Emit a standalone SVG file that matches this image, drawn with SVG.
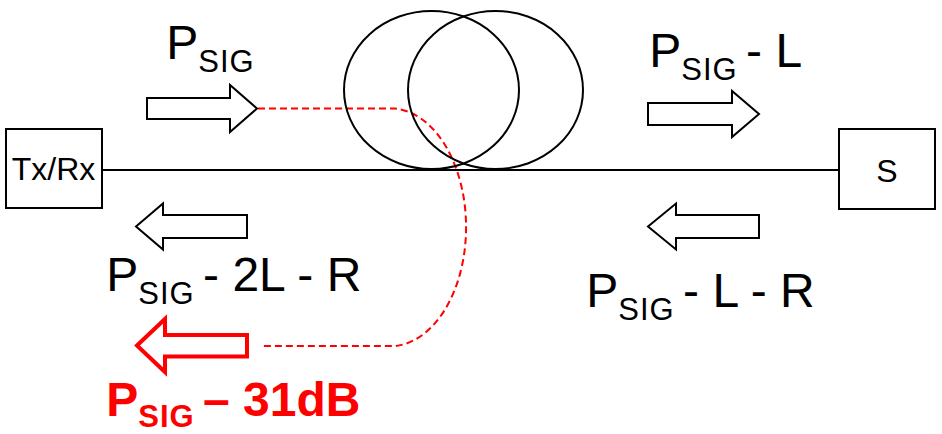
<svg xmlns="http://www.w3.org/2000/svg" width="942" height="434" viewBox="0 0 942 434">
  <style>
    .box { fill: #fff; stroke: #000; stroke-width: 2; }
    .loop { fill: none; stroke: #000; stroke-width: 2; }
    .fiber { stroke: #000; stroke-width: 2; }
    .arrow { fill: #fff; stroke: #000; stroke-width: 2; stroke-linejoin: miter; }
    .arrow-red { fill: #fff; stroke: #ff0000; stroke-width: 4; stroke-linejoin: miter; }
    .leak { fill: none; stroke: #ff0000; stroke-width: 2; stroke-dasharray: 7 4; }
    .lbl { font-family: "Liberation Sans", Arial, sans-serif; font-size: 48px; fill: #000; }
    .lbl-red { font-family: "Liberation Sans", Arial, sans-serif; font-size: 48px; font-weight: bold; fill: #ff0000; }
    .sub { font-size: 31px; letter-spacing: 1px; }
    .node-txt { font-family: "Liberation Sans", Arial, sans-serif; font-size: 32px; fill: #000; text-anchor: middle; }
  </style>

  <!-- fiber connections -->
  <g id="connectors">
    <line class="fiber" x1="102" y1="170" x2="839" y2="170"/>
    <path class="leak" d="M 258,108.5 H 395 A 76 119 0 0 1 395 346 H 262"/>
  </g>

  <!-- transceiver -->
  <g id="txrx">
    <rect class="box" x="6" y="129" width="96" height="79"/>
    <text class="node-txt" x="53.5" y="180">Tx/Rx</text>
  </g>

  <!-- sensor end -->
  <g id="sensor">
    <rect class="box" x="839" y="129" width="96" height="80"/>
    <text class="node-txt" x="887" y="182">S</text>
  </g>

  <!-- fiber coil -->
  <g id="coil">
    <ellipse class="loop" cx="431.5" cy="90" rx="87.5" ry="79"/>
    <ellipse class="loop" cx="495.5" cy="90" rx="87.5" ry="79"/>
  </g>

  <!-- forward signal at transmitter -->
  <g id="fwd-in">
    <polygon class="arrow" points="147,98 230,98 230,85 257,108.5 230,132 230,119 147,119"/>
    <text class="lbl" x="166.3" y="58.5">P<tspan class="sub" dy="13.5">SIG</tspan></text>
  </g>

  <!-- forward signal past coil -->
  <g id="fwd-out">
    <polygon class="arrow" points="648,103 732,103 732,91 759,114 732,137 732,125 648,125"/>
    <text class="lbl" x="649.3" y="67">P<tspan class="sub" dy="13">SIG</tspan><tspan dx="-5" dy="-13"> - L</tspan></text>
  </g>

  <!-- reflected signal back at transceiver -->
  <g id="ret-in">
    <polygon class="arrow" points="136,226.5 163,203.5 163,215 247,215 247,238 163,238 163,249.5"/>
    <text class="lbl" x="106.3" y="291">P<tspan class="sub" dy="12.5">SIG</tspan><tspan dx="-5" dy="-12.5"> - 2L - R</tspan></text>
  </g>

  <!-- reflected signal at sensor -->
  <g id="ret-out">
    <polygon class="arrow" points="648,226.5 676,203.5 676,215 759,215 759,238 676,238 676,249.5"/>
    <text class="lbl" x="586.3" y="307">P<tspan class="sub" dy="12.5">SIG</tspan><tspan dx="-5" dy="-12.5"> - L - R</tspan></text>
  </g>

  <!-- coupled leakage -->
  <g id="leak-out">
    <polygon class="arrow-red" points="137,345.5 165,319 165,335 247,335 247,356.5 165,356.5 165,372"/>
    <text class="lbl-red" x="106.3" y="416">P<tspan class="sub" dy="11">SIG</tspan><tspan dx="-5" dy="-11"> – 31dB</tspan></text>
  </g>
</svg>
